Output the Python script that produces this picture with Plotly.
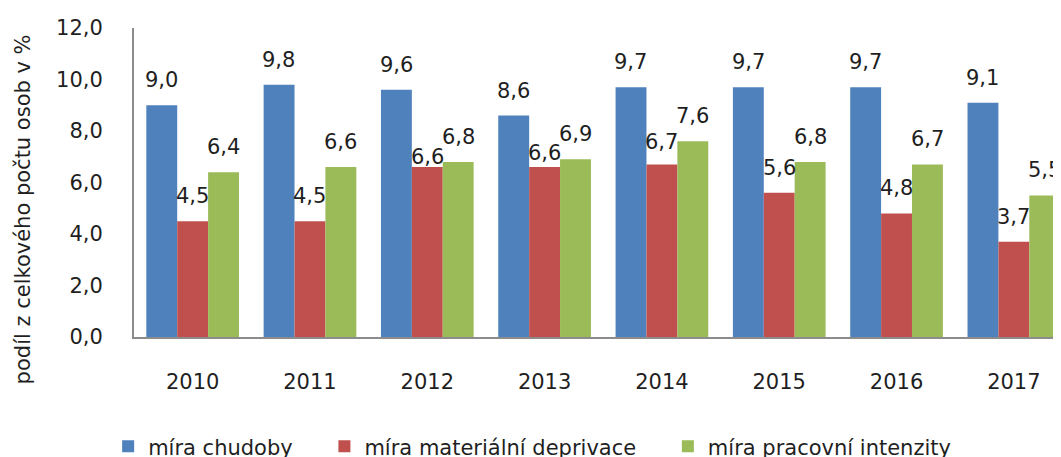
import plotly.graph_objects as go

years = ["2010", "2011", "2012", "2013", "2014", "2015", "2016", "2017"]
mira_chudoby = [9.0, 9.8, 9.6, 8.6, 9.7, 9.7, 9.7, 9.1]
mira_deprivace = [4.5, 4.5, 6.6, 6.6, 6.7, 5.6, 4.8, 3.7]
mira_intenzity = [6.4, 6.6, 6.8, 6.9, 7.6, 6.8, 6.7, 5.5]
series_names = ["míra chudoby", "míra materiální deprivace", "míra pracovní intenzity"]
colors = ["#4F81BD", "#C0504D", "#9BBB59"]
y_ticks = [0, 2, 4, 6, 8, 10, 12]
y_title = "podíl z celkového počtu osob v %"

FONT = "DejaVu Sans"
FS = 21
TXT = "#1f1f1f"
series = [mira_chudoby, mira_deprivace, mira_intenzity]

# manual label nudges (series index, category index) -> pixels down
label_nudge = {(1, 2): 15, (1, 3): 11, (1, 4): 3}

fig = go.Figure()
legend_pad = ["\u00a0\u00a0\u00a0\u00a0", "\u00a0\u00a0\u00a0\u00a0", ""]
for name, vals, col, pad in zip(series_names, series, colors, legend_pad):
    fig.add_trace(go.Bar(x=list(range(len(years))), y=vals, name=name + pad,
                         marker=dict(color=col, line=dict(width=0))))

def fmt(v):
    return f"{v:.1f}".replace(".", ",")

offsets = [-31, 0, 31]
for s, (vals, off) in enumerate(zip(series, offsets)):
    for i, v in enumerate(vals):
        fig.add_annotation(x=i, y=v, xref="x", yref="y", text=fmt(v),
                           showarrow=False, xshift=off,
                           yshift=11 - label_nudge.get((s, i), 0), yanchor="bottom",
                           font=dict(family=FONT, size=FS, color=TXT))

# y-axis title (placed like the original, centred lower than the plot area)
fig.add_annotation(x=0, y=0.413, xref="paper", yref="paper", text=y_title,
                   textangle=-90, showarrow=False, xanchor="center", yanchor="middle",
                   xshift=-111, font=dict(family=FONT, size=FS, color=TXT))

fig.update_layout(
    width=1061, height=457,
    margin=dict(l=126, r=0, t=20, b=128, autoexpand=False),
    paper_bgcolor="white", plot_bgcolor="white",
    barmode="group", bargap=0.21, bargroupgap=0,
    font=dict(family=FONT, size=FS, color=TXT),
    legend=dict(orientation="h", x=0.494, xanchor="center", xref="container",
                y=0.040, yanchor="middle", yref="container",
                font=dict(family=FONT, size=FS, color=TXT)),
    showlegend=True,
)
fig.update_xaxes(range=[-0.5, 7.47], tickvals=list(range(len(years))), ticktext=years,
                 showline=True, linecolor="#8c8c8c", linewidth=2, showgrid=False,
                 ticks="", ticklabelstandoff=25, zeroline=False, automargin=False,
                 tickfont=dict(family=FONT, size=FS, color=TXT))
fig.update_yaxes(range=[0, 12], tickvals=y_ticks, ticktext=[fmt(t) for t in y_ticks],
                 showline=True, linecolor="#8c8c8c", linewidth=2, showgrid=False,
                 ticks="", ticklabelstandoff=25, zeroline=False, automargin=False,
                 tickfont=dict(family=FONT, size=FS, color=TXT))

fig.write_html("out.html")
